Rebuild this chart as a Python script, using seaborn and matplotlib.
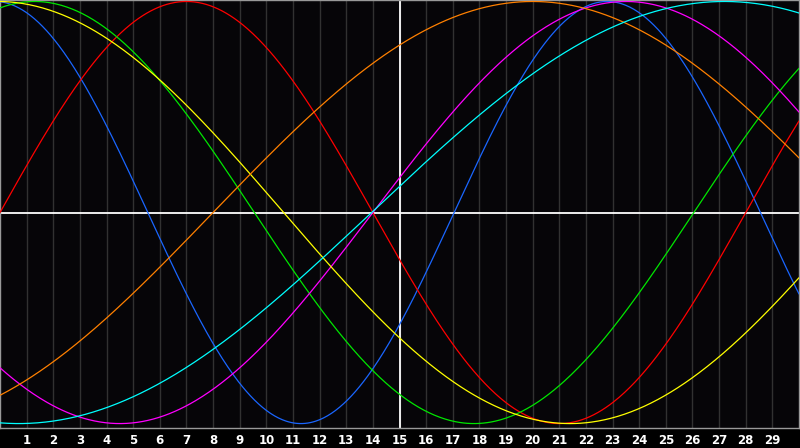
import numpy as np
import pandas as pd
import matplotlib
matplotlib.use('Agg')
import matplotlib.pyplot as plt
import seaborn as sns

# Ciclos del biorritmo: periodo (dias) y dia del pico
ciclos = ['fisico', 'emocional', 'intelectual', 'intuitivo', 'estetico', 'conciencia', 'espiritual']
periodos = [23, 28, 33, 38, 43, 48, 53]
dia_pico = [-0.2, 7.0, 1.3, 23.5, -0.1, 20.0, 27.2]
colores = ['#1a66ff', '#ff0000', '#00e600', '#ff00ff', '#ffff00', '#ff8000', '#00ffff']

dias = list(range(1, 30))
hoy = 15

t = np.linspace(0, 30, 601)
filas = []
for nombre, p, pico in zip(ciclos, periodos, dia_pico):
    filas.append(pd.DataFrame({'dia': t, 'valor': np.cos(2 * np.pi * (t - pico) / p), 'ciclo': nombre}))
df = pd.concat(filas, ignore_index=True)

sns.set_style('dark')
fig = plt.figure(figsize=(8, 4.48), dpi=100, facecolor='black')
ax = fig.add_axes([0, 20 / 448, 799 / 800, 428 / 448])
ax.set_facecolor('#060508')

# rejilla diaria y lineas de referencia (hoy y cero)
for d in dias:
    ax.axvline(d, color='#313131', lw=1.0, zorder=0)
ax.axvline(hoy, color='white', lw=1.3, zorder=1)
ax.axhline(0, color='white', lw=1.3, zorder=1)

sns.lineplot(data=df, x='dia', y='valor', hue='ciclo', palette=dict(zip(ciclos, colores)),
             lw=0.9, legend=False, ax=ax, zorder=3)

ax.set_xlim(0, 30)
ax.set_ylim(-1.021, 1.007)
ax.set_xticks(dias)
ax.set_xticklabels([str(d) for d in dias], color='white', fontsize=8.5, fontweight='bold')
ax.tick_params(axis='x', length=0, pad=4.5)
ax.set_yticks([])
ax.set_xlabel('')
ax.set_ylabel('')
ax.grid(False)
for s in ax.spines.values():
    s.set_visible(True)
    s.set_color('#999999')
    s.set_linewidth(1.0)

fig.savefig('out.png', dpi=100, facecolor='black')
